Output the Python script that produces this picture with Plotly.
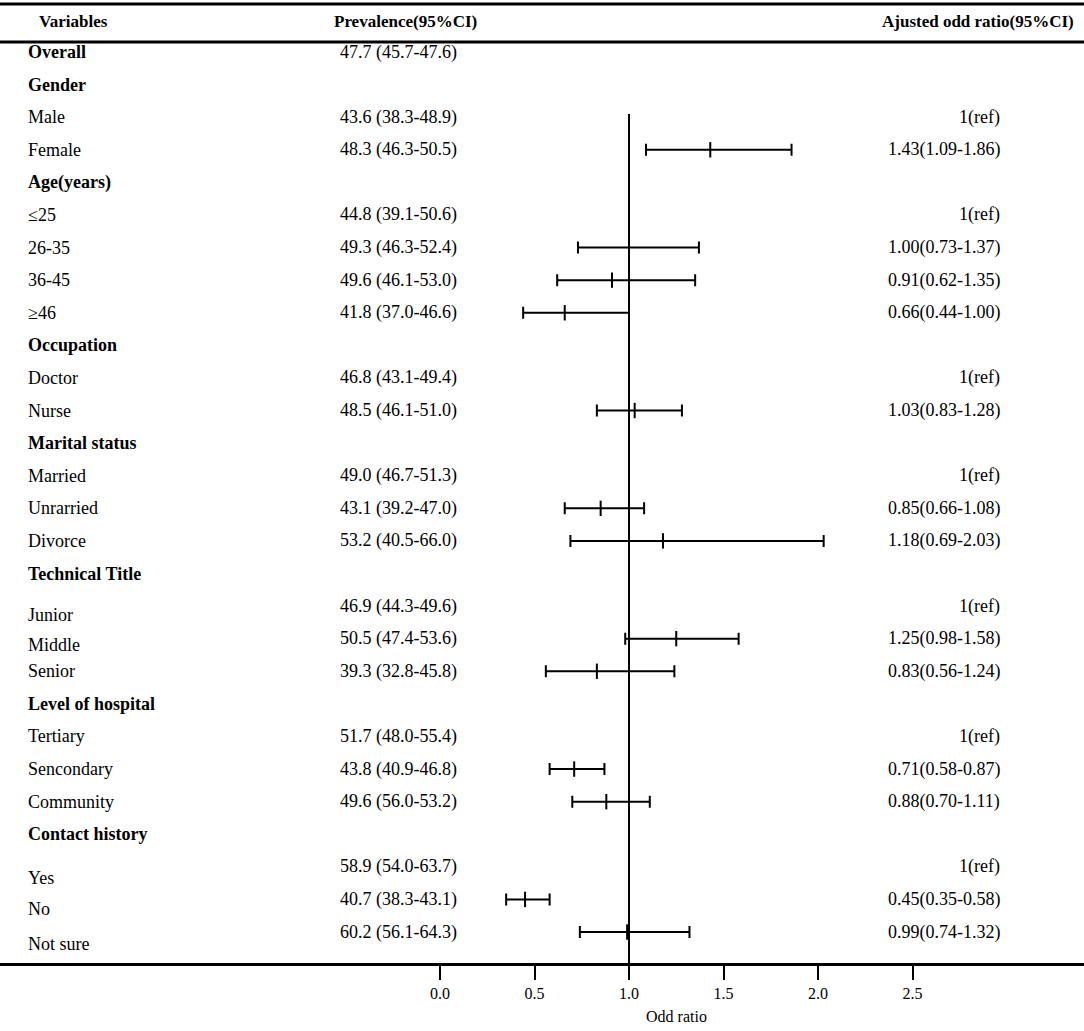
import plotly.graph_objects as go

# table rows, top to bottom
variables = ["Overall", "Gender", "Male", "Female", "Age(years)", "≤25", "26-35", "36-45", "≥46",
             "Occupation", "Doctor", "Nurse", "Marital status", "Married", "Unrarried", "Divorce",
             "Technical Title", "Junior", "Middle", "Senior", "Level of hospital", "Tertiary",
             "Sencondary", "Community", "Contact history", "Yes", "No", "Not sure"]
group_rows = ["Overall", "Gender", "Age(years)", "Occupation", "Marital status",
              "Technical Title", "Level of hospital", "Contact history"]

prevalence = ["47.7 (45.7-47.6)", "", "43.6 (38.3-48.9)", "48.3 (46.3-50.5)", "",
              "44.8 (39.1-50.6)", "49.3 (46.3-52.4)", "49.6 (46.1-53.0)", "41.8 (37.0-46.6)", "",
              "46.8 (43.1-49.4)", "48.5 (46.1-51.0)", "", "49.0 (46.7-51.3)", "43.1 (39.2-47.0)",
              "53.2 (40.5-66.0)", "", "46.9 (44.3-49.6)", "50.5 (47.4-53.6)", "39.3 (32.8-45.8)", "",
              "51.7 (48.0-55.4)", "43.8 (40.9-46.8)", "49.6 (56.0-53.2)", "", "58.9 (54.0-63.7)",
              "40.7 (38.3-43.1)", "60.2 (56.1-64.3)"]

# adjusted odds ratio, None = no estimate drawn (reference or header row)
odds = [None, None, None, 1.43, None, None, 1.00, 0.91, 0.66, None, None, 1.03, None, None, 0.85,
        1.18, None, None, 1.25, 0.83, None, None, 0.71, 0.88, None, None, 0.45, 0.99]
ci_low = [None, None, None, 1.09, None, None, 0.73, 0.62, 0.44, None, None, 0.83, None, None, 0.66,
          0.69, None, None, 0.98, 0.56, None, None, 0.58, 0.70, None, None, 0.35, 0.74]
ci_high = [None, None, None, 1.86, None, None, 1.37, 1.35, 1.00, None, None, 1.28, None, None, 1.08,
           2.03, None, None, 1.58, 1.24, None, None, 0.87, 1.11, None, None, 0.58, 1.32]
ref_rows = ["Male", "≤25", "Doctor", "Married", "Junior", "Tertiary", "Yes"]

tick_vals = [0.0, 0.5, 1.0, 1.5, 2.0, 2.5]

FONT = "Liberation Serif"
W, H = 1084, 1031
# labels in the original table sit a little lower than their values
label_nudge = {"Junior": -9, "Middle": -6, "Yes": -11, "No": -10, "Not sure": -12}

rows = list(range(len(variables)))
pts = [(r, o, o - lo, hi - o) for r, o, lo, hi in zip(rows, odds, ci_low, ci_high) if o is not None]

fig = go.Figure()
fig.add_trace(go.Scatter(
    x=[p[1] for p in pts], y=[p[0] for p in pts], mode="markers",
    marker=dict(symbol="line-ns-open", size=11, color="black", line=dict(width=2, color="black")),
    error_x=dict(type="data", symmetric=False, array=[p[3] for p in pts],
                 arrayminus=[p[2] for p in pts], width=6, thickness=2, color="black"),
    showlegend=False, hoverinfo="skip"))

# reference line at OR = 1
fig.add_shape(type="line", x0=1, x1=1, y0=1.9, y1=27.95, xref="x", yref="y",
              line=dict(color="black", width=2))

# header rules
for yy, w in [(1.0413, 3), (1.0, 3)]:
    fig.add_shape(type="line", x0=0, x1=1, y0=yy, y1=yy, xref="paper", yref="paper",
                  line=dict(color="black", width=w))

ann = []
for r, v, p, o, lo, hi in zip(rows, variables, prevalence, odds, ci_low, ci_high):
    bold = v in group_rows
    ann.append(dict(x=26 / W, y=r, xref="paper", yref="y", xanchor="left", yanchor="middle",
                    text=f"<b>{v}</b>" if bold else v, showarrow=False,
                    yshift=label_nudge.get(v, 0)))
    if p:
        ann.append(dict(x=338 / W, y=r, xref="paper", yref="y", xanchor="left", yanchor="middle",
                        text=p, showarrow=False))
    if v in ref_rows:
        ann.append(dict(x=1002 / W, y=r, xref="paper", yref="y", xanchor="right", yanchor="middle",
                        text="1(ref)", showarrow=False))
    elif o is not None:
        ann.append(dict(x=1002 / W, y=r, xref="paper", yref="y", xanchor="right", yanchor="middle",
                        text=f"{o:.2f}({lo:.2f}-{hi:.2f})", showarrow=False))

# column headers
hdr = dict(size=17)
ann += [
    dict(x=37 / W, y=1.0228, xref="paper", yref="paper", xanchor="left", yanchor="middle",
         text="<b>Variables</b>", showarrow=False, font=hdr),
    dict(x=332 / W, y=1.0228, xref="paper", yref="paper", xanchor="left", yanchor="middle",
         text="<b>Prevalence(95%CI)</b>", showarrow=False, font=hdr),
    dict(x=1076 / W, y=1.0228, xref="paper", yref="paper", xanchor="right", yanchor="middle",
         text="<b>Ajusted odd ratio(95%CI)</b>", showarrow=False, font=hdr),
    dict(x=1.25, y=-0.0586, xref="x", yref="paper", xanchor="center", yanchor="middle",
         text="Odd ratio", showarrow=False, font=dict(size=16)),
]

fig.update_layout(
    width=W, height=H, margin=dict(l=0, r=0, t=42, b=68),
    paper_bgcolor="white", plot_bgcolor="white",
    font=dict(family=FONT, size=18, color="black"),
    annotations=ann,
    xaxis=dict(range=[-440 / 189, (W - 440) / 189], showgrid=False, zeroline=False,
               showline=True, linewidth=3, linecolor="black",
               ticks="outside", ticklen=14, tickwidth=2, tickcolor="black",
               tickvals=tick_vals, ticktext=[f"{t:.1f}" for t in tick_vals],
               tickfont=dict(size=16)),
    yaxis=dict(range=[27.95, -0.307], visible=False, showgrid=False, zeroline=False),
)

fig.write_html("out.html", config={"displayModeBar": False},
               post_script="document.body.style.margin='0';")
